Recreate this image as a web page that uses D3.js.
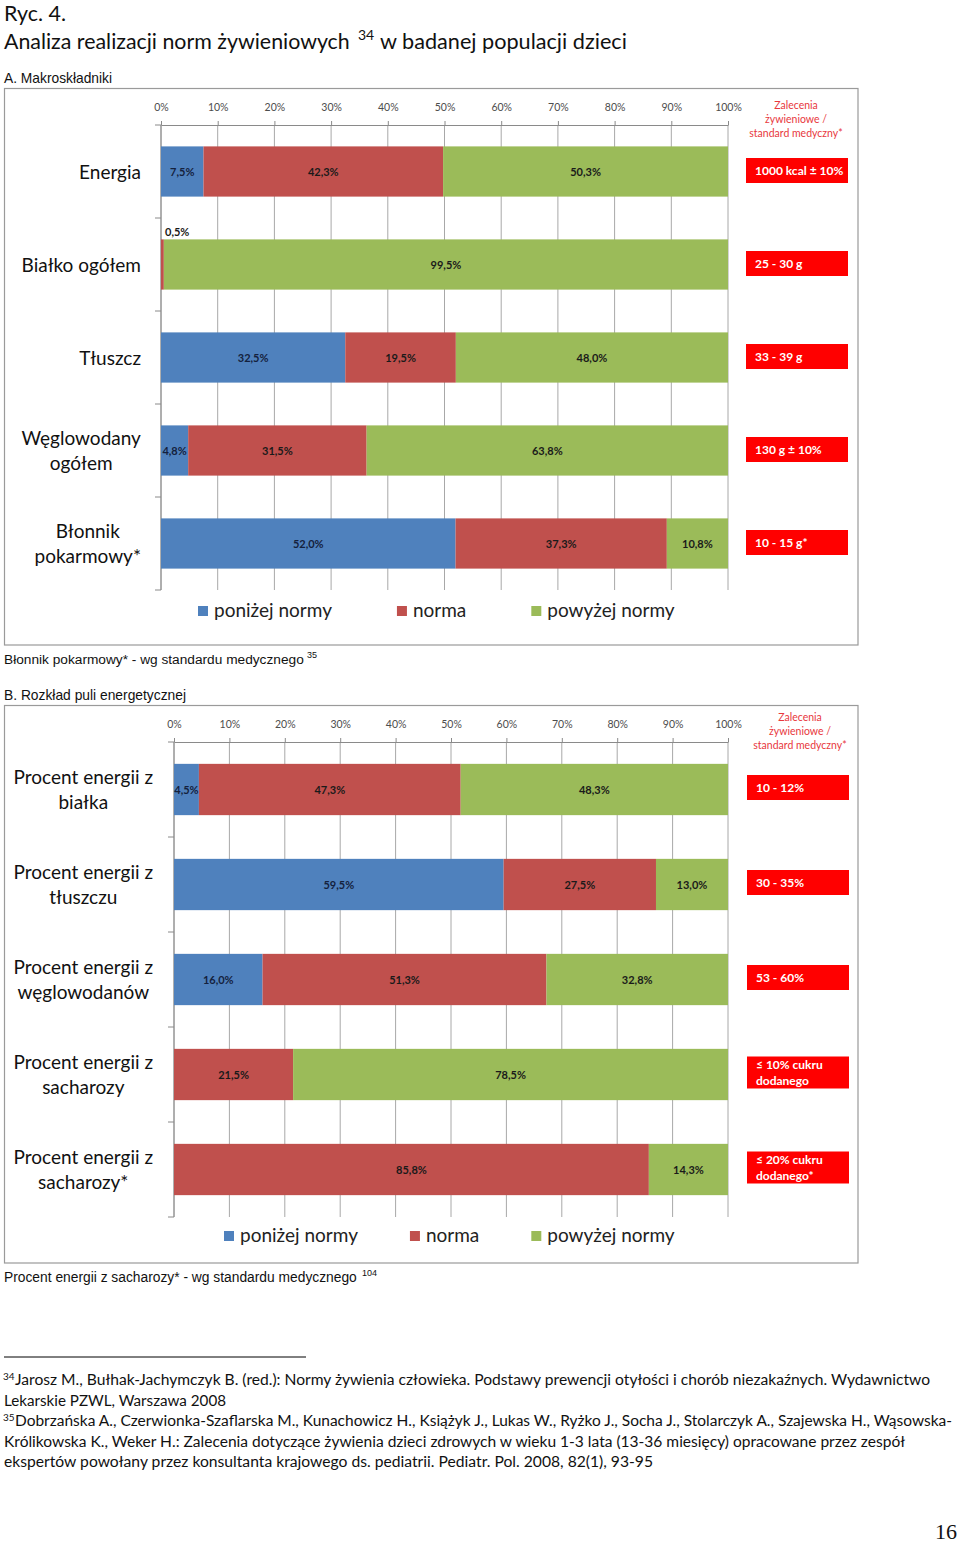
<!DOCTYPE html>
<html><head><meta charset="utf-8">
<script src="https://cdn.jsdelivr.net/npm/d3@7"></script>
<style>
body{margin:0;background:#fff}
svg{display:block}
</style></head><body>
<svg id="c" width="960" height="1543"></svg>
<script>
// ---------- DATA ----------
const seriesKeys = ["poniżej normy", "norma", "powyżej normy"];
const seriesColors = ["#4f81bd", "#c0504d", "#9bbb59"];
const tickValues = [0, 10, 20, 30, 40, 50, 60, 70, 80, 90, 100];
const recHeader = ["Zalecenia", "żywieniowe /", "standard medyczny*"];

const catsA = ["Energia", "Białko ogółem", "Tłuszcz", "Węglowodany\nogółem", "Błonnik\npokarmowy*"];
const belowA = [7.5, 0, 32.5, 4.8, 52.0];
const normA  = [42.3, 0.5, 19.5, 31.5, 37.3];
const aboveA = [50.3, 99.5, 48.0, 63.8, 10.8];
const recsA  = ["1000 kcal ± 10%", "25 - 30 g", "33 - 39 g", "130 g ± 10%", "10 - 15 g*"];

const catsB = ["Procent energii z\nbiałka", "Procent energii z\ntłuszczu", "Procent energii z\nwęglowodanów", "Procent energii z\nsacharozy", "Procent energii z\nsacharozy*"];
const belowB = [4.5, 59.5, 16.0, 0, 0];
const normB  = [47.3, 27.5, 51.3, 21.5, 85.8];
const aboveB = [48.3, 13.0, 32.8, 78.5, 14.3];
const recsB  = ["10 - 12%", "30 - 35%", "53 - 60%", "≤ 10% cukru\ndodanego", "≤ 20% cukru\ndodanego*"];

// ---------- DRAW ----------
const svg = d3.select("#c");
const FONT = "Lato, 'Open Sans', sans-serif";
const NARROW = "'Liberation Sans Narrow','Arial Narrow','Liberation Sans',sans-serif";
const fmt = v => d3.format(".1f")(v).replace(".", ",") + "%";

function fit(sel, w) { sel.attr("textLength", w).attr("lengthAdjust", "spacingAndGlyphs"); }
// scale font size so the natural width equals w
function fitSize(sel, w) {
  const len = sel.node().getComputedTextLength();
  const fs = +sel.attr("font-size");
  sel.attr("font-size", fs * w / len);
}

// Page title
svg.append("text").attr("x", 4).attr("y", 21).attr("font-family", FONT).attr("font-size", 21)
  .attr("fill", "#111").text("Ryc. 4.").call(fit, 62);
svg.append("text").attr("x", 4).attr("y", 49).attr("font-family", FONT).attr("font-size", 22)
  .attr("fill", "#111").text("Analiza realizacji norm żywieniowych").call(fitSize, 346);
svg.append("text").attr("x", 358).attr("y", 40).attr("font-family", FONT).attr("font-size", 14)
  .attr("fill", "#111").text("34");
svg.append("text").attr("x", 380).attr("y", 49).attr("font-family", FONT).attr("font-size", 22)
  .attr("fill", "#111").text("w badanej populacji dzieci").call(fitSize, 247);

svg.append("text").attr("x", 4).attr("y", 83).attr("font-family", NARROW).attr("font-size", 15)
  .attr("fill", "#111").text("A. Makroskładniki").call(fit, 108);

function drawChart(cfg) {
  const g = svg.append("g");
  g.append("rect").attr("x", cfg.box[0]).attr("y", cfg.box[1]).attr("width", cfg.box[2]).attr("height", cfg.box[3])
    .attr("fill", "#fff").attr("stroke", "#9a9a9a").attr("stroke-width", 1.2);

  const rows = cfg.cats.map((c, i) => ({cat: c, "poniżej normy": cfg.below[i], "norma": cfg.norm[i], "powyżej normy": cfg.above[i], rec: cfg.recs[i]}));
  const x = d3.scaleLinear().domain([0, 1]).range([cfg.x0, cfg.x1]);
  const xPct = d3.scaleLinear().domain([0, 100]).range([cfg.x0, cfg.x1]);
  const y = d3.scaleBand().domain(cfg.cats).range([cfg.y0, cfg.y1]).paddingInner(0.46).paddingOuter(0.23);
  const stack = d3.stack().keys(seriesKeys).offset(d3.stackOffsetExpand)(rows);

  // gridlines
  g.append("g").selectAll("line").data(tickValues).join("line")
    .attr("x1", d => xPct(d)).attr("x2", d => xPct(d)).attr("y1", cfg.y0).attr("y2", cfg.y1)
    .attr("stroke", "#a8a8a8").attr("stroke-width", 1);

  // top axis
  const ax = g.append("g").attr("transform", `translate(0,${cfg.y0})`)
    .call(d3.axisTop(xPct).tickValues(tickValues).tickFormat(d => d + "%").tickSize(4).tickSizeOuter(0).tickPadding(10));
  ax.select(".domain").attr("stroke", "#8a8a8a");
  ax.selectAll(".tick line").attr("stroke", "#8a8a8a");
  ax.selectAll("text").attr("font-family", FONT).attr("font-size", 10.5).attr("fill", "#4d4d4d");

  // left axis line + boundary ticks
  const step = y.step();
  g.append("line").attr("x1", cfg.x0).attr("x2", cfg.x0).attr("y1", cfg.y0).attr("y2", cfg.y1).attr("stroke", "#8a8a8a");
  g.append("g").selectAll("line").data(d3.range(cfg.cats.length + 1)).join("line")
    .attr("x1", cfg.x0 - 6).attr("x2", cfg.x0).attr("y1", i => cfg.y0 + i * step).attr("y2", i => cfg.y0 + i * step)
    .attr("stroke", "#8a8a8a");

  // bars
  stack.forEach((s, si) => {
    const sg = g.append("g");
    sg.selectAll("rect").data(s).join("rect")
      .attr("x", d => x(d[0])).attr("width", d => x(d[1]) - x(d[0]))
      .attr("y", d => y(d.data.cat)).attr("height", y.bandwidth())
      .attr("fill", seriesColors[si]);
    sg.selectAll("text").data(s.filter(d => d.data[s.key] > 0)).join("text")
      .attr("font-family", FONT).attr("font-size", 11).attr("font-weight", "bold")
      .attr("fill", si === 0 ? "#14213d" : "#1a1a1a")
      .each(function (d) {
        const w = x(d[1]) - x(d[0]);
        const el = d3.select(this);
        if (w < 12 && d.data[s.key] < 1) {
          el.attr("x", x(d[0]) + 4).attr("y", y(d.data.cat) - 3).attr("text-anchor", "start");
        } else {
          el.attr("x", (x(d[0]) + x(d[1])) / 2).attr("y", y(d.data.cat) + y.bandwidth() / 2 + 4).attr("text-anchor", "middle");
        }
      })
      .text(d => fmt(d.data[s.key]));
  });

  // category labels
  rows.forEach(r => {
    const lines = r.cat.split("\n");
    const cy = y(r.cat) + y.bandwidth() / 2;
    const t = g.append("text").attr("font-family", FONT).attr("font-size", 19).attr("fill", "#111").attr("text-anchor", "middle");
    lines.forEach((l, li) => {
      t.append("tspan").attr("x", 0).attr("y", cy + 7 + (li - (lines.length - 1) / 2) * 25).text(l);
    });
    const w = t.node().getBBox().width;
    t.selectAll("tspan").attr("x", cfg.labelRight - w / 2);
  });

  // recommendation header
  const hd = g.append("text").attr("font-family", FONT).attr("font-size", 10.5).attr("fill", "#e8383d").attr("text-anchor", "middle");
  recHeader.forEach((l, li) => hd.append("tspan").attr("x", cfg.zalX).attr("y", cfg.zalY + 4 + li * 14).text(l));

  // recommendation boxes
  rows.forEach(r => {
    const lines = r.rec.split("\n");
    const cy = y(r.cat) + y.bandwidth() / 2 + cfg.recShift;
    const h = lines.length > 1 ? 32 : 25;
    g.append("rect").attr("x", cfg.recX).attr("y", cy - h / 2).attr("width", 102).attr("height", h).attr("fill", "#ff0000");
    const t = g.append("text").attr("font-family", FONT).attr("font-size", 12).attr("font-weight", "bold").attr("fill", "#fff");
    lines.forEach((l, li) => t.append("tspan").attr("x", cfg.recX + 9).attr("y", cy + 4 + (li - (lines.length - 1) / 2) * 16).text(l));
  });

  // legend
  let lx = cfg.legendX;
  seriesKeys.forEach((k, i) => {
    g.append("rect").attr("x", lx).attr("y", cfg.legendY - 5).attr("width", 10).attr("height", 10).attr("fill", seriesColors[i]);
    const t = g.append("text").attr("x", lx + 16).attr("y", cfg.legendY + 6).attr("font-family", FONT).attr("font-size", 19)
      .attr("fill", "#222").text(k);
    lx += 16 + t.node().getComputedTextLength() + cfg.legendGap;
  });
}

drawChart({box: [4.5, 88.5, 853.5, 556.5], x0: 161, x1: 728, y0: 125, y1: 590,
  cats: catsA, below: belowA, norm: normA, above: aboveA, recs: recsA,
  labelRight: 141, zalX: 796, zalY: 105, recX: 746, recShift: -1, legendX: 198, legendY: 611, legendGap: 65});

svg.append("text").attr("x", 4).attr("y", 664).attr("font-family", NARROW).attr("font-size", 14)
  .attr("fill", "#111").text("Błonnik pokarmowy* - wg standardu medycznego").call(fitSize, 300);
svg.append("text").attr("x", 307).attr("y", 658).attr("font-family", NARROW).attr("font-size", 9)
  .attr("fill", "#111").text("35");

svg.append("text").attr("x", 4).attr("y", 700).attr("font-family", NARROW).attr("font-size", 15)
  .attr("fill", "#111").text("B. Rozkład puli energetycznej").call(fit, 182);

drawChart({box: [4.5, 705.5, 853.5, 557.5], x0: 174, x1: 728, y0: 742, y1: 1217,
  cats: catsB, below: belowB, norm: normB, above: aboveB, recs: recsB,
  labelRight: 153, zalX: 800, zalY: 717, recX: 747, recShift: -2, legendX: 224, legendY: 1236, legendGap: 52});

svg.append("text").attr("x", 4).attr("y", 1282).attr("font-family", NARROW).attr("font-size", 14)
  .attr("fill", "#111").text("Procent energii z sacharozy* - wg standardu medycznego").call(fitSize, 353);
svg.append("text").attr("x", 362).attr("y", 1276).attr("font-family", NARROW).attr("font-size", 9)
  .attr("fill", "#111").text("104");

// footnotes
svg.append("line").attr("x1", 4).attr("x2", 306).attr("y1", 1357).attr("y2", 1357).attr("stroke", "#000").attr("stroke-width", 1);
const notes = [
  {sup: "34", text: "Jarosz M., Bułhak-Jachymczyk B. (red.): Normy żywienia człowieka. Podstawy prewencji otyłości i chorób niezakaźnych. Wydawnictwo", w: 915},
  {sup: "", text: "Lekarskie PZWL, Warszawa 2008", w: 222},
  {sup: "35", text: "Dobrzańska A., Czerwionka-Szaflarska M., Kunachowicz H., Książyk J., Lukas W., Ryżko J., Socha J., Stolarczyk A., Szajewska H., Wąsowska-", w: 937},
  {sup: "", text: "Królikowska K., Weker H.: Zalecenia dotyczące żywienia dzieci zdrowych w wieku 1-3 lata (13-36 miesięcy) opracowane przez zespół", w: 901},
  {sup: "", text: "ekspertów powołany przez konsultanta krajowego ds. pediatrii. Pediatr. Pol. 2008, 82(1), 93-95", w: 649}
];
notes.forEach((n, i) => {
  const yy = 1385 + i * 20.5;
  if (n.sup) {
    svg.append("text").attr("x", 3).attr("y", yy - 5).attr("font-family", FONT).attr("font-size", 10).attr("fill", "#111").text(n.sup);
    svg.append("text").attr("x", 15).attr("y", yy).attr("font-family", FONT).attr("font-size", 15.5).attr("fill", "#111")
      .text(n.text).call(fit, n.w);
  } else {
    svg.append("text").attr("x", 4).attr("y", yy).attr("font-family", FONT).attr("font-size", 15.5).attr("fill", "#111")
      .text(n.text).call(fit, n.w);
  }
});

svg.append("text").attr("x", 957).attr("y", 1539).attr("text-anchor", "end").attr("font-family", "'Liberation Serif', serif")
  .attr("font-size", 22).attr("fill", "#111").text("16");
</script>
</body></html>
